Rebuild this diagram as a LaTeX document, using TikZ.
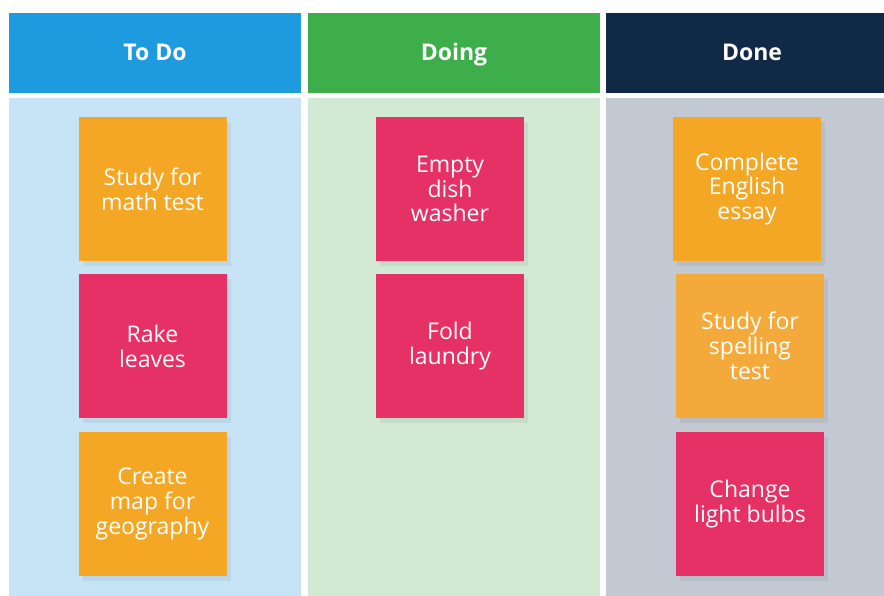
\documentclass[tikz,border=0pt]{standalone}
\usepackage{fontspec}
\setmainfont{Open Sans}
\usetikzlibrary{shadows}
\definecolor{hblue}{HTML}{1E9BDF}
\definecolor{hgreen}{HTML}{3EAE4B}
\definecolor{hnavy}{HTML}{0F2946}
\definecolor{bblue}{HTML}{C6E4F6}
\definecolor{bgreen}{HTML}{D2EAD4}
\definecolor{bgrey}{HTML}{C2C9D2}
\definecolor{corange}{HTML}{F4A724}
\definecolor{corange2}{HTML}{F3AA3A}
\definecolor{cpink}{HTML}{E53166}
\tikzset{
  header/.style={minimum width=292pt, minimum height=80pt, inner sep=0pt, text=white,
    text height=18.5pt, text depth=3.5pt,
    font=\fontsize{23}{25}\selectfont\bfseries},
  colbody/.style={minimum width=292pt, minimum height=498pt, inner sep=0pt, anchor=north west},
  card/.style={minimum width=148pt, minimum height=144pt, inner sep=0pt, text=white,
    align=center, font=\fontsize{23}{24.8}\selectfont,
    drop shadow={shadow xshift=4pt, shadow yshift=-5pt, fill=black, opacity=0.06}},
}
\begin{document}
\begin{tikzpicture}[x=1pt,y=-1pt]
\useasboundingbox (0,0) rectangle (884,596);
\fill[white] (0,0) rectangle (884,596);
% column bodies
\node[colbody, fill=bblue] (b1) at (9,98) {};
\node[colbody, fill=bgreen] (b2) at (308,98) {};
\node[colbody, fill=bgrey] (b3) at (606,98) {};
% headers
\node[header, fill=hblue] (h1) at (155,53) {To Do};
\node[header, fill=hgreen] (h2) at (454,53) {Doing};
\node[header, fill=hnavy] (h3) at (752,53) {Done};
% To Do cards
\node[card, fill=corange] (t1) at (152.5,189) {Study for\\math test};
\node[card, fill=cpink] (t2) at (152.5,346) {Rake\\leaves};
\node[card, fill=corange] (t3) at (152.5,504) {Create\\map for\\geography};
% Doing cards
\node[card, fill=cpink] (d1) at (450,189) {Empty\\dish\\washer};
\node[card, fill=cpink] (d2) at (450,346) {Fold\\laundry};
% Done cards
\node[card, fill=corange] (n1) at (747,189) {Complete\\English\\essay};
\node[card, fill=corange2] (n2) at (750,346) {Study for\\spelling\\test};
\node[card, fill=cpink] (n3) at (750,504) {Change\\light bulbs};
\end{tikzpicture}
\end{document}
